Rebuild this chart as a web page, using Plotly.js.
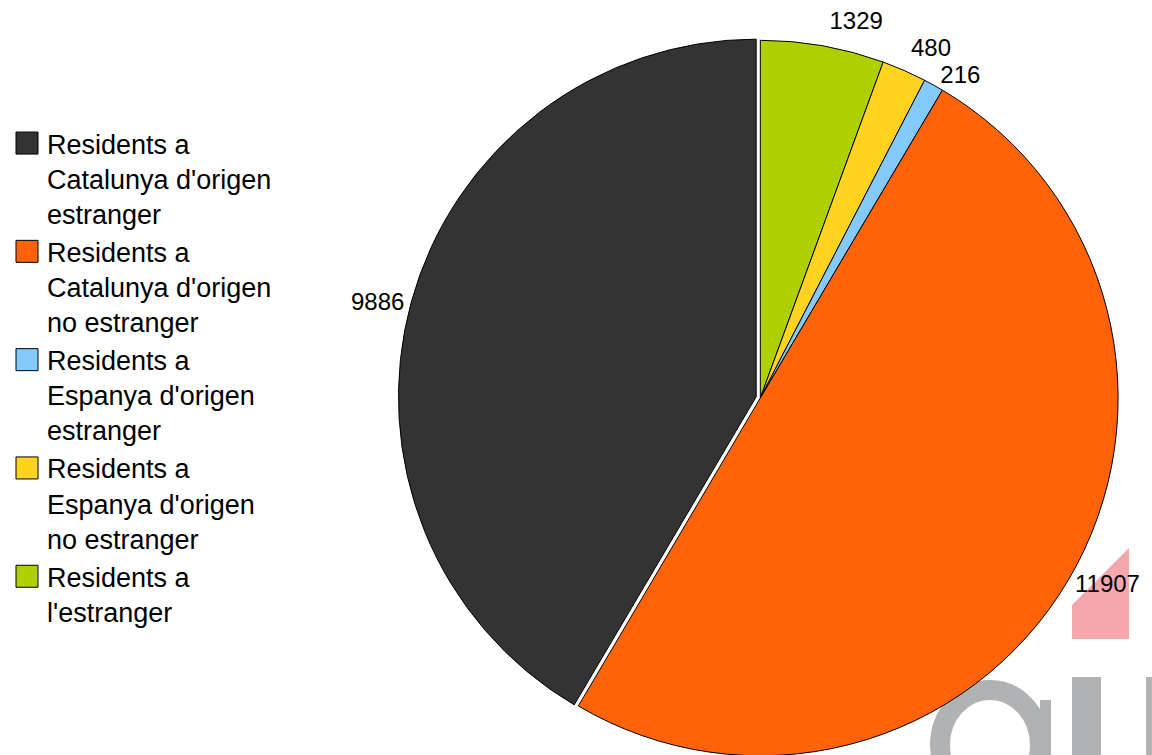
<!DOCTYPE html>
<html>
<head>
<meta charset="utf-8">
<script src="https://cdn.plot.ly/plotly-3.0.1.min.js"></script>
<style>
  html, body { margin: 0; padding: 0; background: #ffffff; overflow: hidden; }
  #chart { width: 1152px; height: 800px; }
</style>
</head>
<body>
<div id="chart"></div>
<script>
// ---- data (clockwise order from 12 o'clock; legend shows it reversed) ----
const categories = [
  "Residents a<br>l'estranger",
  "Residents a<br>Espanya d'origen<br>no estranger",
  "Residents a<br>Espanya d'origen<br>estranger",
  "Residents a<br>Catalunya d'origen<br>no estranger",
  "Residents a<br>Catalunya d'origen<br>estranger"
];
const values = [1329, 480, 216, 11907, 9886];
const sliceColors = ["#aecf00", "#ffd320", "#83caff", "#ff6309", "#333333"];
const pulls = [0, 0, 0, 0, 0.012];

// ---- layout helpers (pixel -> paper) ----
const W = 1152, H = 800;
const px = x => x / W;
const py = y => 1 - y / H;

const FONT = "Liberation Sans, Arial, sans-serif";

const trace = {
  type: "pie",
  labels: categories,
  values: values,
  sort: false,
  direction: "clockwise",
  rotation: 0,
  pull: pulls,
  marker: { colors: sliceColors, line: { color: "#000000", width: 1 } },
  texttemplate: "%{value:d}",
  textposition: "outside",
  textfont: { family: FONT, size: 24, color: "#000000" },
  hoverinfo: "none",
  domain: { x: [0.33, 0.99], y: [0.05, 0.955] }
};

// watermark-like logo shapes behind the pie
const gray = "#b1b2b4";
const shapes = [
  { type: "path", layer: "below", xref: "paper", yref: "paper",
    path: `M${px(1072)},${py(605)} L${px(1129)},${py(548)} L${px(1129)},${py(639)} L${px(1072)},${py(639)} Z`,
    fillcolor: "#f4a7ac", line: { width: 0 } },
  { type: "rect", layer: "below", xref: "paper", yref: "paper",
    x0: px(1072), x1: px(1101), y0: py(677), y1: py(800), fillcolor: gray, line: { width: 0 } },
  { type: "rect", layer: "below", xref: "paper", yref: "paper",
    x0: px(1146), x1: px(1160), y0: py(677), y1: py(800), fillcolor: gray, line: { width: 0 } },
  { type: "rect", layer: "below", xref: "paper", yref: "paper",
    x0: px(1040), x1: px(1051), y0: py(700), y1: py(800), fillcolor: gray, line: { width: 0 } },
  { type: "circle", layer: "below", xref: "paper", yref: "paper",
    x0: px(940), x1: px(1040), y0: py(690), y1: py(800), fillcolor: "rgba(0,0,0,0)", line: { color: gray, width: 20 } }
];

const layout = {
  width: W,
  height: H,
  margin: { l: 0, r: 0, t: 0, b: 0 },
  paper_bgcolor: "#ffffff",
  font: { family: FONT, color: "#000000" },
  showlegend: true,
  legend: {
    traceorder: "reversed",
    x: px(7), xanchor: "left",
    y: py(119), yanchor: "top",
    valign: "top",
    font: { family: FONT, size: 27, color: "#000000" },
    bgcolor: "rgba(0,0,0,0)",
    borderwidth: 0
  },
  shapes: shapes
};

Plotly.newPlot("chart", [trace], layout, { displayModeBar: false, staticPlot: true }).then(() => {
  // enlarge legend swatches to match the reference squares
  document.querySelectorAll("#chart .legend .legendpoints path").forEach(p => {
    p.setAttribute("d", "M11,11V-11H-11V11Z");
  });
  // the reference has no leader lines for outside labels
  document.querySelectorAll("#chart path.textline").forEach(p => {
    p.style.display = "none";
  });
});
</script>
</body>
</html>
